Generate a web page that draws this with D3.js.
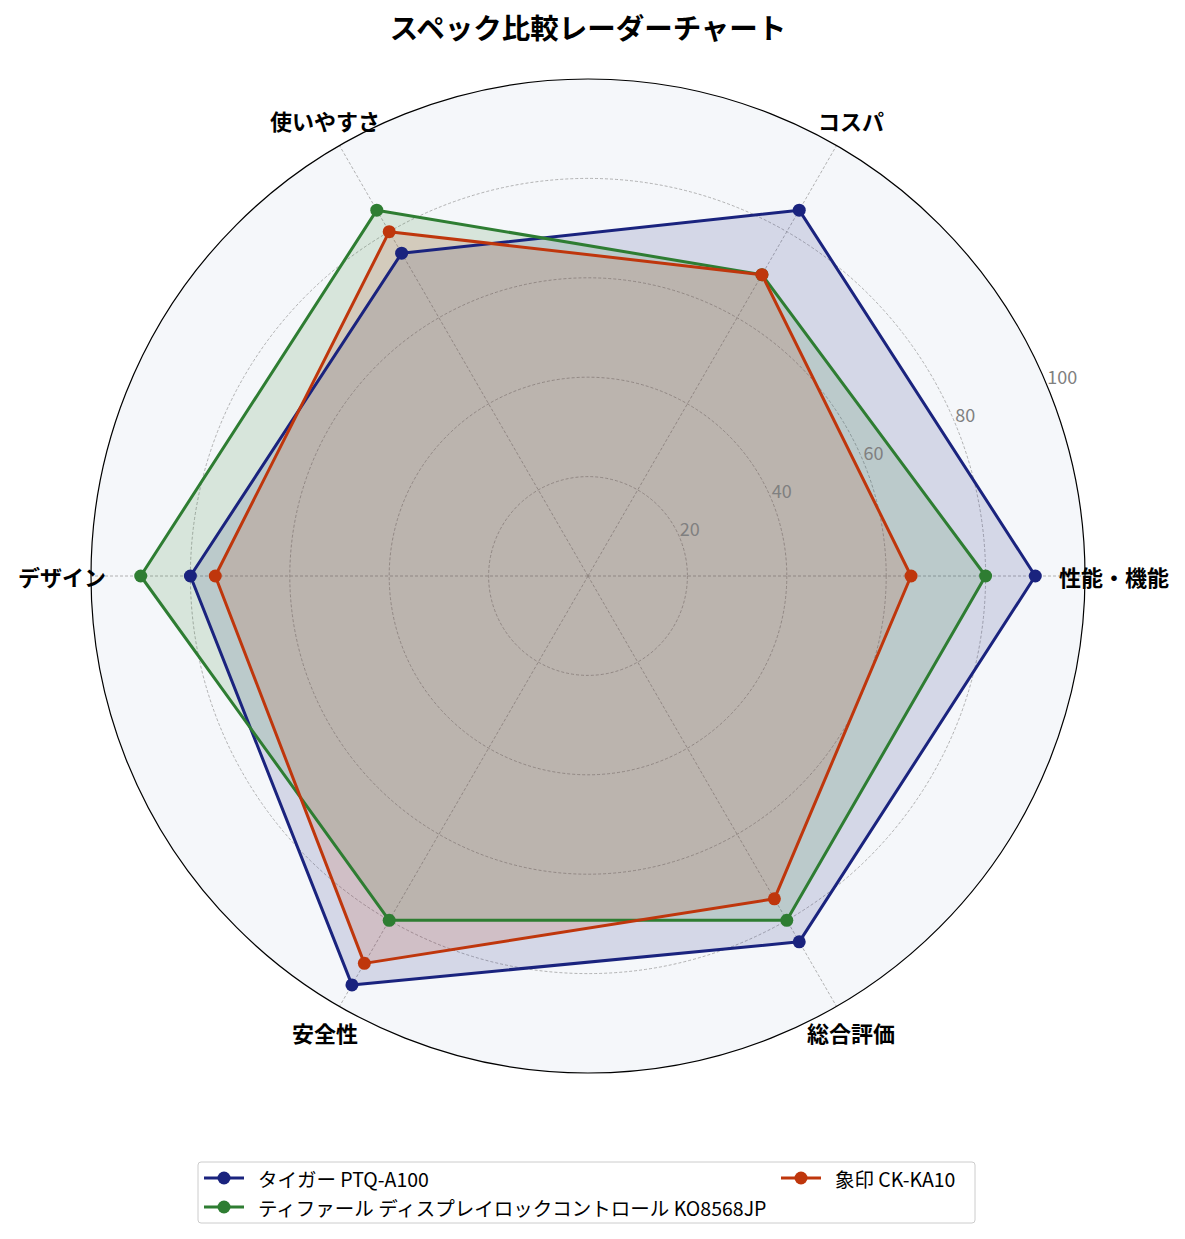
<!DOCTYPE html>
<html>
<head>
<meta charset="utf-8">
<script src="https://cdn.jsdelivr.net/npm/d3@7"></script>
<style>
  body { margin: 0; background: #fff; }
  svg { font-family: "Noto Sans CJK JP", "Noto Sans", sans-serif; }
</style>
</head>
<body>
<svg id="radar" width="1185" height="1239"></svg>
<script>
// Data
const axesLabels = ['性能・機能', 'コスパ', '使いやすさ', 'デザイン', '安全性', '総合評価'];
const seriesNames = ['タイガー PTQ-A100', 'ティファール ディスプレイロックコントロール KO8568JP', '象印 CK-KA10'];
const tigerValues = [90, 85, 75, 80, 95, 85];
const tefalValues = [80, 70, 85, 90, 80, 80];
const zojirushiValues = [65, 70, 80, 75, 90, 75];
const radialTicks = [20, 40, 60, 80, 100];
const seriesColors = ['#1a237e', '#2e7d32', '#bf360c'];

const series = [
  { name: seriesNames[0], values: tigerValues, color: seriesColors[0] },
  { name: seriesNames[1], values: tefalValues, color: seriesColors[1] },
  { name: seriesNames[2], values: zojirushiValues, color: seriesColors[2] }
];

const svg = d3.select('#radar');
const cx = 588, cy = 576, R = 497;

const r = d3.scaleLinear().domain([0, 100]).range([0, R]);
// angle in radians, counter-clockwise from the right
const angle = d3.scaleLinear().domain([0, axesLabels.length]).range([0, 2 * Math.PI]);
const px = (i, v) => cx + r(v) * Math.cos(angle(i));
const py = (i, v) => cy - r(v) * Math.sin(angle(i));

// title
svg.append('text')
  .attr('x', cx).attr('y', 39)
  .attr('text-anchor', 'middle')
  .style('font-size', '28.5px').style('font-weight', 700)
  .text('スペック比較レーダーチャート');

// polar background
svg.append('circle')
  .attr('cx', cx).attr('cy', cy).attr('r', r(100))
  .attr('fill', '#f5f7fa');

// grid rings
svg.append('g').selectAll('circle')
  .data(radialTicks.filter(t => t < 100))
  .enter().append('circle')
  .attr('cx', cx).attr('cy', cy).attr('r', d => r(d))
  .attr('fill', 'none')
  .attr('stroke', '#a0a0a0').attr('stroke-width', 0.8)
  .attr('stroke-dasharray', '3,2');

// spokes
svg.append('g').selectAll('line')
  .data(axesLabels)
  .enter().append('line')
  .attr('x1', cx).attr('y1', cy)
  .attr('x2', (d, i) => px(i, 100)).attr('y2', (d, i) => py(i, 100))
  .attr('stroke', '#a0a0a0').attr('stroke-width', 0.8)
  .attr('stroke-dasharray', '3,2');

// series
const lineGen = d3.line().curve(d3.curveLinearClosed);
series.forEach(s => {
  const pts = s.values.map((v, i) => [px(i, v), py(i, v)]);
  svg.append('path')
    .attr('d', lineGen(pts))
    .attr('fill', s.color).attr('fill-opacity', 0.15)
    .attr('stroke', 'none');
});
series.forEach(s => {
  const pts = s.values.map((v, i) => [px(i, v), py(i, v)]);
  svg.append('path')
    .attr('d', lineGen(pts))
    .attr('fill', 'none')
    .attr('stroke', s.color).attr('stroke-width', 3)
    .attr('stroke-linejoin', 'round');
  svg.append('g').selectAll('circle')
    .data(pts)
    .enter().append('circle')
    .attr('cx', d => d[0]).attr('cy', d => d[1]).attr('r', 6.5)
    .attr('fill', s.color);
});

// outer frame
svg.append('circle')
  .attr('cx', cx).attr('cy', cy).attr('r', r(100))
  .attr('fill', 'none').attr('stroke', '#000').attr('stroke-width', 1.2);

// radial tick labels at 22.5 degrees
const tickAng = 22.5 * Math.PI / 180;
svg.append('g').selectAll('text')
  .data(radialTicks)
  .enter().append('text')
  .attr('x', d => cx + r(d) * Math.cos(tickAng))
  .attr('y', d => cy - r(d) * Math.sin(tickAng) - 2)
  .style('font-size', '18px')
  .attr('fill', '#808080')
  .text(d => d);

// axis labels
svg.append('g').selectAll('text')
  .data(axesLabels)
  .enter().append('text')
  .attr('x', (d, i) => cx + 526 * Math.cos(angle(i)))
  .attr('y', (d, i) => cy - 526 * Math.sin(angle(i)))
  .attr('text-anchor', 'middle')
  .attr('dominant-baseline', 'central')
  .style('font-size', '22px').style('font-weight', 700)
  .text(d => d);

// legend
const legend = svg.append('g');
legend.append('rect')
  .attr('x', 198).attr('y', 1162).attr('width', 777).attr('height', 61)
  .attr('rx', 3)
  .attr('fill', '#fff').attr('stroke', '#cccccc').attr('stroke-width', 1);

const legendPos = [[204, 1178], [204, 1207], [781, 1178]];
series.forEach((s, i) => {
  const [lx, ly] = legendPos[i];
  const g = legend.append('g').attr('transform', `translate(${lx},${ly})`);
  g.append('line').attr('x1', 0).attr('x2', 40).attr('y1', 0).attr('y2', 0)
    .attr('stroke', s.color).attr('stroke-width', 3);
  g.append('circle').attr('cx', 20).attr('cy', 0).attr('r', 6.5).attr('fill', s.color);
  g.append('text').attr('x', 54).attr('y', 0)
    .attr('dominant-baseline', 'central')
    .style('font-size', '19.5px')
    .text(s.name);
});
</script>
</body>
</html>
